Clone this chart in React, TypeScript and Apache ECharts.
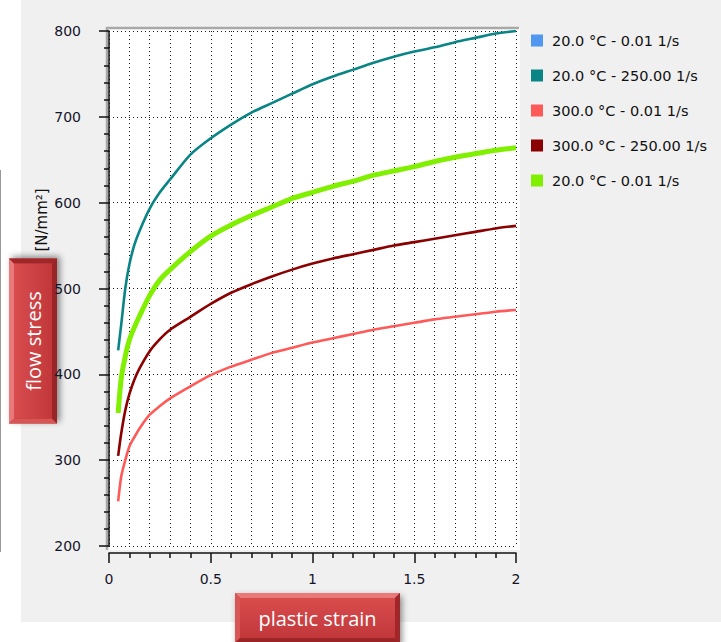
import React, { useEffect, useRef } from "react";
import * as echarts from "echarts";

// plastic strain sample points shared by all flow curves
const strain = [0.045, 0.06, 0.08, 0.1, 0.125, 0.15, 0.2, 0.25, 0.3, 0.4, 0.5, 0.6, 0.7, 0.8, 0.9, 1.0, 1.1, 1.2, 1.3, 1.4, 1.5, 1.6, 1.7, 1.8, 1.9, 2.0];

// flow stress [N/mm²] per test condition
const stress20Slow = [355, 395, 421, 440, 455, 468, 492, 510, 522, 543, 561, 574, 585, 595, 605, 612, 619, 625, 632, 637, 642, 648, 653, 657, 661, 664];
const stress20Fast = [428, 458, 500, 528, 551, 567, 593, 612, 627, 656, 675, 691, 705, 716, 727, 738, 747, 755, 763, 770, 776, 781, 787, 792, 797, 800];
const stress300Slow = [252, 281, 300, 316, 327, 337, 353, 363, 372, 386, 399, 409, 417, 425, 431, 437, 442, 447, 452, 456, 460, 464, 467, 470, 473, 475];
const stress300Fast = [305, 331, 358, 377, 394, 407, 427, 441, 452, 467, 482, 495, 505, 514, 522, 529, 535, 540, 545, 550, 554, 558, 562, 566, 570, 573];
const stress20SlowB = [355, 395, 421, 440, 455, 468, 492, 510, 522, 543, 561, 574, 585, 595, 605, 612, 619, 625, 632, 637, 642, 648, 653, 657, 661, 664];

const seriesKeys = ["T20-R0.01", "T20-R250", "T300-R0.01", "T300-R250", "T20-R0.01-b"];
const seriesLabels = [
  "20.0 °C - 0.01 1/s",
  "20.0 °C - 250.00 1/s",
  "300.0 °C - 0.01 1/s",
  "300.0 °C - 250.00 1/s",
  "20.0 °C - 0.01 1/s",
];
const seriesColors = ["#4f97ef", "#0a8585", "#ff5a5a", "#8b0000", "#80f000"];
const seriesWidths = [2, 2.6, 2.6, 2.6, 5];
const seriesValues = [stress20Slow, stress20Fast, stress300Slow, stress300Fast, stress20SlowB];

const xTicks = [0, 0.5, 1, 1.5, 2];
const yTicks = [200, 300, 400, 500, 600, 700, 800];

const UI_FONT = "DejaVu Sans";
const BTN_FONT = "Open Sans";

function bevelButton(cx: number, cy: number, w: number, h: number, label: string, rotation: number) {
  const b = 5;
  const x0 = -w / 2;
  const y0 = -h / 2;
  return {
    type: "group",
    x: cx,
    y: cy,
    rotation,
    z: 100,
    children: [
      {
        type: "rect",
        shape: { x: x0, y: y0, width: w, height: h },
        style: {
          fill: "#b83234",
          shadowBlur: 6,
          shadowOffsetX: 2,
          shadowOffsetY: 3,
          shadowColor: "rgba(0,0,0,0.45)",
        },
      },
      {
        type: "polygon",
        shape: { points: [[x0, y0], [x0 + w, y0], [x0 + w - b, y0 + b], [x0 + b, y0 + b]] },
        style: { fill: "#ea7a7a" },
      },
      {
        type: "polygon",
        shape: { points: [[x0, y0], [x0 + b, y0 + b], [x0 + b, y0 + h - b], [x0, y0 + h]] },
        style: { fill: "#d85555" },
      },
      {
        type: "polygon",
        shape: { points: [[x0 + w, y0], [x0 + w, y0 + h], [x0 + w - b, y0 + h - b], [x0 + w - b, y0 + b]] },
        style: { fill: "#a02729" },
      },
      {
        type: "polygon",
        shape: { points: [[x0, y0 + h], [x0 + b, y0 + h - b], [x0 + w - b, y0 + h - b], [x0 + w, y0 + h]] },
        style: { fill: "#9a2426" },
      },
      {
        type: "rect",
        shape: { x: x0 + b, y: y0 + b, width: w - 2 * b, height: h - 2 * b },
        style: {
          fill: new echarts.graphic.LinearGradient(0, 0, 0, 1, [
            { offset: 0, color: "#d84c4e" },
            { offset: 1, color: "#c2383a" },
          ]),
        },
      },
      {
        type: "text",
        x: 0,
        y: 0,
        style: {
          text: label,
          fill: "#ffffff",
          font: `20px "${BTN_FONT}"`,
          align: "center",
          verticalAlign: "middle",
        },
      },
    ],
  };
}

export default function App() {
  const ref = useRef<HTMLDivElement>(null);

  useEffect(() => {
    if (!ref.current) return;
    const chart = echarts.init(ref.current, undefined, { renderer: "svg" });

    const labelOf: Record<string, string> = {};
    seriesKeys.forEach((k, i) => (labelOf[k] = seriesLabels[i]));

    const axisLineStyle = { color: "#111111", width: 1.5 };
    const gridDots = { color: "#1a1a1a", width: 1, type: [1, 3] as number[] };

    chart.setOption({
      animation: false,
      backgroundColor: "#ffffff",
      grid: { left: 109, top: 31, width: 407, height: 515, containLabel: false },
      xAxis: {
        type: "value",
        min: xTicks[0],
        max: xTicks[xTicks.length - 1],
        interval: 0.5,
        offset: 7,
        axisLine: { show: true, lineStyle: axisLineStyle },
        axisTick: { show: true, length: 10, lineStyle: axisLineStyle },
        minorTick: { show: true, splitNumber: 5, length: 5, lineStyle: axisLineStyle },
        splitLine: { show: true, lineStyle: gridDots },
        minorSplitLine: { show: true, lineStyle: gridDots },
        axisLabel: { fontFamily: UI_FONT, fontSize: 14, color: "#15152a", margin: 19 },
      },
      yAxis: {
        type: "value",
        min: yTicks[0],
        max: yTicks[yTicks.length - 1],
        interval: 100,
        offset: 9,
        axisLine: { show: true, lineStyle: axisLineStyle },
        axisTick: { show: true, length: 10, lineStyle: axisLineStyle },
        minorTick: { show: true, splitNumber: 5, length: 5, lineStyle: axisLineStyle },
        splitLine: { show: true, lineStyle: gridDots },
        minorSplitLine: { show: false },
        axisLabel: { fontFamily: UI_FONT, fontSize: 14, color: "#15152a", margin: 19 },
      },
      legend: {
        orient: "vertical",
        left: 531,
        top: 33,
        padding: 0,
        itemWidth: 12,
        itemHeight: 12,
        itemGap: 20,
        icon: "rect",
        selectedMode: false,
        data: seriesKeys,
        formatter: (name: string) => labelOf[name],
        textStyle: { fontFamily: UI_FONT, fontSize: 14.5, color: "#111111", padding: [0, 0, 0, 4] },
      },
      series: seriesKeys.map((key, i) => ({
        name: key,
        type: "line",
        showSymbol: false,
        symbol: "none",
        smooth: 0.25,
        data: strain.map((s, j) => [s, seriesValues[i][j]]),
        itemStyle: { color: seriesColors[i] },
        lineStyle: { color: seriesColors[i], width: seriesWidths[i] },
        z: 2 + i,
      })),
      graphic: [
        {
          type: "rect",
          z: -20,
          shape: { x: 21, y: 0, width: 700, height: 622 },
          style: { fill: "#f0f0f0" },
        },
        {
          type: "line",
          z: -20,
          shape: { x1: 0.5, y1: 170, x2: 0.5, y2: 552 },
          style: { stroke: "#9a9a9a", lineWidth: 1 },
        },
        {
          type: "rect",
          z: -10,
          shape: { x: 107, y: 28, width: 413, height: 522 },
          style: { fill: "#ffffff" },
        },
        {
          type: "polyline",
          z: -9,
          shape: { points: [[107, 550], [107, 28], [519, 28]] },
          style: { stroke: "#a8a8a8", lineWidth: 2.5, fill: null },
        },
        {
          type: "text",
          x: 42,
          y: 220,
          rotation: Math.PI / 2,
          z: 50,
          style: {
            text: "[N/mm²]",
            fill: "#111111",
            font: `15px "${UI_FONT}"`,
            align: "center",
            verticalAlign: "middle",
          },
        },
        bevelButton(33, 341, 165, 48, "flow stress", Math.PI / 2),
        bevelButton(317.5, 618, 165, 50, "plastic strain", 0),
      ],
    });

    return () => chart.dispose();
  }, []);

  return (
    <div
      ref={ref}
      style={{ position: "absolute", left: 0, top: 0, width: 721, height: 642 }}
    />
  );
}
